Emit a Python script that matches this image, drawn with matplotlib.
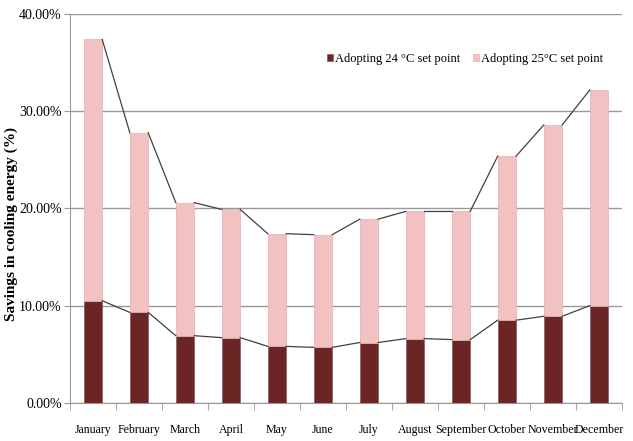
import matplotlib
matplotlib.use("Agg")
import matplotlib.pyplot as plt
import numpy as np

# months
months = ['January', 'February', 'March', 'April', 'May', 'June', 'July',
          'August', 'September', 'October', 'November', 'December']
# savings with 24 C set point (%)
sp24 = [10.5, 9.3, 6.9, 6.7, 5.8, 5.7, 6.2, 6.6, 6.5, 8.5, 8.9, 10.0]
# total savings with 25 C set point (%)
sp25_total = [37.4, 27.8, 20.6, 19.9, 17.4, 17.3, 18.9, 19.7, 19.7, 25.4, 28.6, 32.2]
sp25 = [t - b for t, b in zip(sp25_total, sp24)]

plt.rcParams['font.family'] = ['Liberation Serif', 'DejaVu Serif']

fig = plt.figure(figsize=(6.33, 4.41), dpi=100)
ax = fig.add_axes([0.1106, 0.0868, 0.872, 0.881])

x = np.arange(len(months))
w = 0.4
dark = '#6b2525'
pink = '#f2c2c2'

b1 = ax.bar(x, sp24, w, color=dark, edgecolor='#8a5a5a', linewidth=0.5, zorder=3)
b2 = ax.bar(x, sp25, w, bottom=sp24, color=pink, edgecolor='#e0b0b0', linewidth=0.5, zorder=3)

# series lines: top-right of one bar to top-left of the next
for vals in (sp24, sp25_total):
    for i in range(len(vals) - 1):
        ax.plot([x[i] + w / 2, x[i + 1] - w / 2], [vals[i], vals[i + 1]],
                color='#404040', linewidth=0.9, zorder=4)

ax.set_xlim(-0.5, len(months) - 0.5)
ax.set_ylim(0, 40)
ax.set_yticks([0, 10, 20, 30, 40])
ax.set_yticklabels(['0.00%', '10.00%', '20.00%', '30.00%', '40.00%'], fontsize=10)
ax.set_xticks(x)
ax.set_xticklabels(months, fontsize=8.6)
ax.set_xticks(np.arange(-0.5, len(months)), minor=True)
ax.tick_params(axis='x', which='major', length=0, pad=15)
ax.tick_params(axis='x', which='minor', length=5, color='#999999')
ax.tick_params(axis='y', length=4, color='#999999', pad=2)

ax.yaxis.grid(True, color='#999999', linewidth=1, zorder=0)
ax.set_axisbelow(True)
for s in ('top', 'right'):
    ax.spines[s].set_visible(False)
for s in ('left', 'bottom'):
    ax.spines[s].set_color('#999999')

ax.set_ylabel('Savings in cooling energy (%)', fontsize=11, fontweight='bold')
ax.yaxis.set_label_coords(-0.094, 0.46)

ax.legend([b1, b2], ['Adopting 24 \u00b0C set point', 'Adopting 25\u00b0C set point'],
          loc='center left', bbox_to_anchor=(0.465, 0.885), ncol=2, frameon=False,
          fontsize=9, handlelength=0.5, handleheight=0.6, handletextpad=0.15,
          columnspacing=1.0, borderaxespad=0, borderpad=0)

fig.savefig('out.png', dpi=100)
